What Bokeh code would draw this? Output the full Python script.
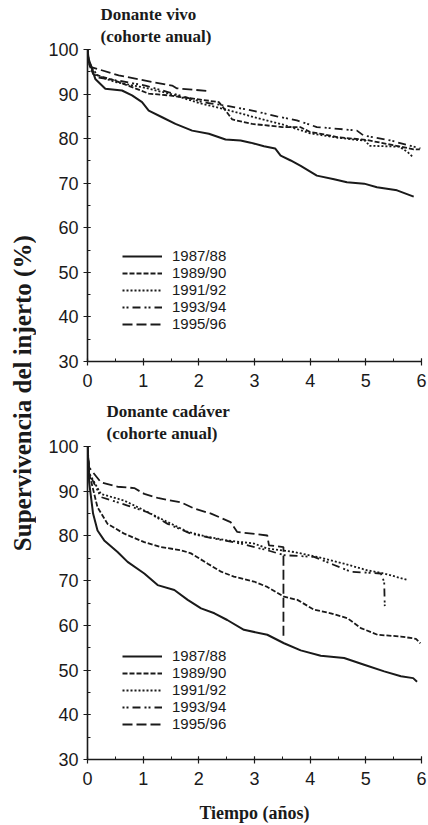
import math
from bokeh.plotting import figure
from bokeh.models import Range1d, Label, Legend, LegendItem, FixedTicker, Title
from bokeh.layouts import row, column
from bokeh.embed import file_html
from bokeh.resources import INLINE

# ---------------- data ----------------
cohorts = ["1987/88", "1989/90", "1991/92", "1993/94", "1995/96"]
x_ticks = [0, 1, 2, 3, 4, 5, 6]
y_ticks = [30, 40, 50, 60, 70, 80, 90, 100]

# Donante vivo
vivo_t_8788 = [0, 0.02, 0.14, 0.32, 0.62, 0.8, 0.98, 1.1, 1.34, 1.58, 1.88, 2.18, 2.48, 2.75, 2.93,
               3.17, 3.37, 3.47, 3.65, 3.83, 4.12, 4.43, 4.66, 4.97, 5.2, 5.56, 5.86]
vivo_s_8788 = [100, 97.9, 93.4, 91.2, 90.8, 89.7, 88.2, 86.3, 84.8, 83.3, 81.8, 81.1, 79.8, 79.6, 79.1,
               78.3, 77.8, 76.2, 75.1, 73.9, 71.7, 70.9, 70.2, 69.9, 69.1, 68.4, 67.0]
vivo_t_8990 = [0, 0.02, 0.1, 0.5, 1.1, 1.46, 1.94, 2.36, 2.5, 2.6, 2.96, 3.5, 3.82, 4.0, 4.36, 4.5,
               5.02, 5.5, 5.86, 5.97]
vivo_s_8990 = [100, 97, 94.5, 93.0, 90.1, 89.7, 88.9, 88.2, 86.0, 84.3, 83.3, 82.6, 82.6, 81.5, 80.7, 80.3,
               79.7, 78.5, 77.6, 77.6]
vivo_t_9192 = [0, 0.03, 0.2, 0.5, 1.0, 1.5, 2.0, 2.5, 3.0, 3.5, 4.0, 4.5, 5.0, 5.06, 5.6, 5.75, 5.85]
vivo_s_9192 = [100, 96.5, 94.0, 92.7, 91.5, 90.0, 88.0, 86.5, 84.8, 83.2, 81.2, 80.2, 79.5, 78.4, 78.2, 77.0, 75.8]
vivo_t_9394 = [0, 0.03, 0.15, 0.56, 1.04, 1.46, 1.76, 2.06, 2.48, 2.96, 3.4, 3.76, 4.12, 4.5, 4.84,
               4.96, 5.44, 5.98]
vivo_s_9394 = [100, 97, 93.8, 93.0, 91.9, 90.4, 89.3, 88.2, 87.4, 86.3, 85.0, 84.1, 82.6, 82.2, 81.8,
               80.7, 79.6, 77.8]
vivo_t_9596 = [0, 0.02, 0.08, 0.56, 1.16, 1.52, 1.6, 2.15]
vivo_s_9596 = [100, 97.5, 96.0, 94.2, 92.7, 91.9, 91.3, 90.7]

# Donante cadaver
cad_t_8788 = [0, 0.03, 0.1, 0.18, 0.3, 0.54, 0.72, 1.02, 1.26, 1.56, 1.8, 2.04, 2.28, 2.51, 2.81,
              3.23, 3.53, 3.83, 4.19, 4.61, 4.97, 5.33, 5.63, 5.85, 5.92]
cad_s_8788 = [100, 92, 85, 81.2, 79.0, 76.4, 74.2, 71.6, 69.0, 67.9, 65.7, 63.8, 62.7, 61.2, 59.0,
              57.9, 56.0, 54.4, 53.2, 52.7, 51.2, 49.7, 48.6, 48.2, 47.4]
cad_t_8990 = [0, 0.03, 0.18, 0.36, 0.66, 1.02, 1.32, 1.68, 1.86, 2.16, 2.4, 2.63, 2.99, 3.23, 3.53,
              3.77, 4.07, 4.37, 4.67, 4.91, 5.21, 5.63, 5.9, 5.98]
cad_s_8990 = [100, 94, 86.4, 82.7, 80.5, 78.6, 77.5, 76.8, 76.1, 73.8, 72.0, 70.9, 69.8, 68.6, 66.4,
              65.7, 63.5, 62.7, 61.6, 59.4, 57.9, 57.5, 57.0, 56.0]
cad_t_9192 = [0, 0.03, 0.24, 0.66, 1.02, 1.44, 1.8, 2.16, 2.51, 2.99, 3.23, 3.71, 4.13, 4.61, 5.03, 5.33, 5.76]
cad_s_9192 = [100, 94, 89.4, 87.9, 85.7, 83.1, 80.9, 79.8, 79.0, 78.3, 77.2, 76.4, 75.3, 73.8, 72.3, 71.6, 70.1]
cad_t_9394 = [0, 0.03, 0.24, 0.72, 1.08, 1.44, 1.86, 2.28, 2.75, 3.23, 3.53, 4.07, 4.43, 4.73, 5.27, 5.33, 5.34]
cad_s_9394 = [100, 94, 88.7, 86.8, 85.3, 82.7, 80.5, 79.4, 78.3, 76.8, 75.7, 75.3, 73.5, 72.0, 71.6, 69.7, 64.3]
cad_t_9596 = [0, 0.03, 0.24, 0.54, 0.84, 1.02, 1.26, 1.68, 1.92, 2.22, 2.57, 2.69, 3.23, 3.26, 3.52, 3.52]
cad_s_9596 = [100, 95.3, 92.0, 91.0, 90.7, 89.4, 88.5, 87.5, 86.1, 85.0, 83.1, 80.9, 80.1, 77.9, 77.5, 56.8]

# ---------------- styling ----------------
INK = "#1a1a1a"
DASHES = ["solid", "5 2", "2 2", "2 2 2 4 8 4", "10 4"]
WIDTHS = [2.0, 1.8, 1.8, 1.8, 1.8]
SERIF = "Liberation Serif"
SANS = "Liberation Sans"

LABEL_W = 36
FIG_W = 392
BORDER_L = 51
BORDER_R = 7


def make_panel(title1, title2, ts, ss, height, b_top, b_bottom, legend_loc, title_offset, xlabel=None):
    p = figure(width=FIG_W, height=height, output_backend="svg", toolbar_location=None,
               x_range=Range1d(0, 6), y_range=Range1d(30, 100),
               min_border_left=BORDER_L, min_border_right=BORDER_R,
               min_border_top=b_top, min_border_bottom=b_bottom)
    p.outline_line_color = None
    p.grid.visible = False
    p.background_fill_color = "white"
    p.border_fill_color = "white"

    for ax in (p.xaxis[0], p.yaxis[0]):
        ax.axis_line_color = INK
        ax.axis_line_width = 1.6
        ax.major_tick_line_color = INK
        ax.minor_tick_line_color = INK
        ax.major_tick_line_width = 1.2
        ax.major_tick_out = 4
        ax.major_tick_in = 3
        ax.minor_tick_out = 0
        ax.minor_tick_in = 3
        ax.major_label_text_font = SANS
        ax.major_label_text_font_size = "18px"
        ax.major_label_text_color = INK
    p.xaxis.ticker = FixedTicker(ticks=x_ticks, minor_ticks=[i * 0.5 for i in range(13)])
    p.yaxis.ticker = FixedTicker(ticks=y_ticks, minor_ticks=[30 + i * 5 for i in range(15)])
    p.xaxis.major_label_standoff = 8
    p.yaxis.major_label_standoff = 5
    if xlabel:
        p.xaxis.axis_label = xlabel
        p.xaxis.axis_label_text_font = SERIF
        p.xaxis.axis_label_text_font_style = "bold"
        p.xaxis.axis_label_text_font_size = "18px"
        p.xaxis.axis_label_text_color = INK
        p.xaxis.axis_label_standoff = 15

    items = []
    for lab, t, s, d, w in zip(cohorts, ts, ss, DASHES, WIDTHS):
        r = p.line(t, s, line_color=INK, line_width=w, line_dash=d)
        items.append(LegendItem(label=lab, renderers=[r]))

    leg = Legend(items=items, location=legend_loc, background_fill_alpha=0, border_line_alpha=0,
                 label_text_font=SANS, label_text_font_size="15px", label_text_color=INK,
                 label_text_line_height=0.9,
                 glyph_width=40, glyph_height=16, label_height=16, spacing=-1, padding=0, margin=0,
                 label_standoff=10)
    p.add_layout(leg)

    # two-line title: the one added first sits closest to the frame
    p.add_layout(Title(text=title2, align="left", offset=title_offset, standoff=8,
                       text_font=SERIF, text_font_style="bold", text_font_size="17px",
                       text_color=INK), "above")
    p.add_layout(Title(text=title1, align="left", offset=title_offset, standoff=-7,
                       text_font=SERIF, text_font_style="bold", text_font_size="17px",
                       text_color=INK), "above")
    return p


top = make_panel("Donante vivo", "(cohorte anual)",
                 [vivo_t_8788, vivo_t_8990, vivo_t_9192, vivo_t_9394, vivo_t_9596],
                 [vivo_s_8788, vivo_s_8990, vivo_s_9192, vivo_s_9394, vivo_s_9596],
                 height=400, b_top=49, b_bottom=39, legend_loc=(35, 29), title_offset=13)
bottom = make_panel("Donante cadáver", "(cohorte anual)",
                    [cad_t_8788, cad_t_8990, cad_t_9192, cad_t_9394, cad_t_9596],
                    [cad_s_8788, cad_s_8990, cad_s_9192, cad_s_9394, cad_s_9596],
                    height=425, b_top=46, b_bottom=65, legend_loc=(35, 27), title_offset=19,
                    xlabel="Tiempo (años)")

# shared y-axis label in a narrow figure
lab = figure(width=LABEL_W, height=825, output_backend="svg", toolbar_location=None,
             x_range=Range1d(0, 1), y_range=Range1d(0, 1), min_border=0)
lab.axis.visible = False
lab.grid.visible = False
lab.outline_line_color = None
lab.add_layout(Label(x=0.61, y=0.524, text="Supervivencia del injerto (%)", angle=math.pi / 2,
                     text_font=SERIF, text_font_style="bold", text_font_size="25px", text_color=INK,
                     text_align="center", text_baseline="middle"))

layout = row(lab, column(top, bottom, spacing=0), spacing=0)
open("out.html", "w").write(file_html(layout, INLINE))
